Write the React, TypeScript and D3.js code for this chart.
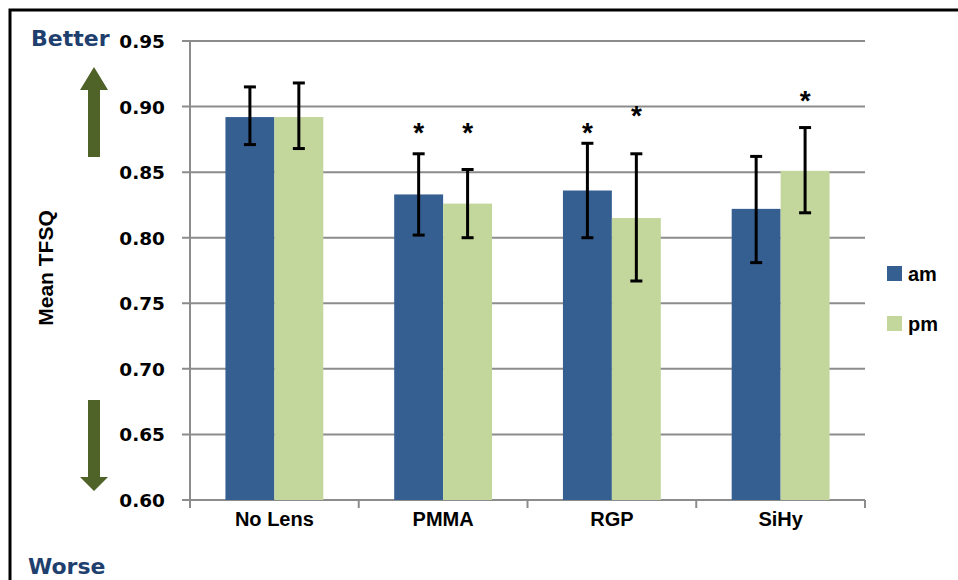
import React from 'react';
import * as d3 from 'd3';

const categories = ['No Lens', 'PMMA', 'RGP', 'SiHy'];
const seriesNames = ['am', 'pm'];
const amValues = [0.892, 0.833, 0.836, 0.822];
const pmValues = [0.892, 0.826, 0.815, 0.851];
const amErrLow = [0.871, 0.802, 0.800, 0.781];
const amErrHigh = [0.915, 0.864, 0.872, 0.862];
const pmErrLow = [0.868, 0.800, 0.767, 0.819];
const pmErrHigh = [0.918, 0.852, 0.864, 0.884];
// y value of the significance star centre per category, null = no star
const amStars = [null, 0.8835, 0.8835, null];
const pmStars = [null, 0.8835, 0.8965, 0.908];
const yTicks = [0.6, 0.65, 0.7, 0.75, 0.8, 0.85, 0.9, 0.95];

const colors = { am: '#365f91', pm: '#c3d69b' };
const W = 958;
const H = 580;
const margin = { left: 190, right: 93, top: 41, bottom: 80 };

const App = () => {
  const innerW = W - margin.left - margin.right;
  const innerH = H - margin.top - margin.bottom;

  const x = d3.scaleBand().domain(categories).range([0, innerW]).paddingInner(0.42).paddingOuter(0.21);
  const x1 = d3.scaleBand().domain(seriesNames).range([0, x.bandwidth()]);
  const y = d3.scaleLinear().domain([0.6, 0.95]).range([innerH, 0]);

  const series = [
    { name: 'am', values: amValues, lo: amErrLow, hi: amErrHigh, stars: amStars },
    { name: 'pm', values: pmValues, lo: pmErrLow, hi: pmErrHigh, stars: pmStars },
  ];

  const catStep = innerW / categories.length;
  const font = '"Liberation Sans", Arial, sans-serif';
  const wide = '"DejaVu Sans", Verdana, sans-serif';

  return (
    <div style={{ position: 'absolute', left: 0, top: 0 }}>
      <svg width={W} height={H} style={{ display: 'block', fontFamily: font, background: '#fff' }}>
        {/* frame */}
        <rect x={10} y={10} width={W + 20} height={H + 20} fill="none" stroke="#000" strokeWidth={3} />

        <g transform={`translate(${margin.left},${margin.top})`}>
          {/* gridlines */}
          {yTicks.map(t => (
            <line key={`g${t}`} x1={-8} x2={innerW} y1={y(t)} y2={y(t)} stroke="#8c8c8c" strokeWidth={2} />
          ))}
          {/* y axis */}
          <line x1={0} x2={0} y1={0} y2={innerH} stroke="#8c8c8c" strokeWidth={2} />
          {/* x tick marks */}
          {d3.range(categories.length + 1).map(i => (
            <line key={`xt${i}`} x1={i * catStep} x2={i * catStep} y1={innerH} y2={innerH + 8} stroke="#8c8c8c" strokeWidth={2} />
          ))}

          {/* bars */}
          {series.map(s =>
            categories.map((c, i) => (
              <rect
                key={`${s.name}${c}`}
                x={(x(c) ?? 0) + (x1(s.name) ?? 0)}
                y={y(s.values[i])}
                width={x1.bandwidth()}
                height={innerH - y(s.values[i])}
                fill={colors[s.name as 'am' | 'pm']}
              />
            ))
          )}

          {/* error bars */}
          {series.map(s =>
            categories.map((c, i) => {
              const cx = (x(c) ?? 0) + (x1(s.name) ?? 0) + x1.bandwidth() / 2;
              return (
                <g key={`e${s.name}${c}`} stroke="#000" strokeWidth={3}>
                  <line x1={cx} x2={cx} y1={y(s.hi[i])} y2={y(s.lo[i])} />
                  <line x1={cx - 6} x2={cx + 6} y1={y(s.hi[i])} y2={y(s.hi[i])} />
                  <line x1={cx - 6} x2={cx + 6} y1={y(s.lo[i])} y2={y(s.lo[i])} />
                </g>
              );
            })
          )}

          {/* stars */}
          {series.map(s =>
            categories.map((c, i) => {
              const v = s.stars[i];
              if (v == null) return null;
              const cx = (x(c) ?? 0) + (x1(s.name) ?? 0) + x1.bandwidth() / 2;
              return (
                <text key={`s${s.name}${c}`} x={cx} y={y(v) + 14} textAnchor="middle" fontSize={28} fontWeight="bold" fill="#000">
                  *
                </text>
              );
            })
          )}

          {/* y tick labels */}
          {yTicks.map(t => (
            <text
              key={`yl${t}`}
              x={-25}
              y={y(t) + 7}
              textAnchor="end"
              fontSize={18.5}
              fontWeight="bold"
              fill="#000"
              style={{ fontFamily: wide }}
            >
              {t.toFixed(2)}
            </text>
          ))}

          {/* x labels */}
          {categories.map(c => (
            <text
              key={`xl${c}`}
              x={(x(c) ?? 0) + x.bandwidth() / 2}
              y={innerH + 26}
              textAnchor="middle"
              fontSize={20}
              fontWeight="bold"
              fill="#000"
            >
              {c}
            </text>
          ))}
        </g>

        {/* axis title */}
        <text transform="translate(53,268) rotate(-90)" textAnchor="middle" fontSize={21} fontWeight="bold" fill="#000">
          Mean TFSQ
        </text>

        {/* Better / Worse */}
        <text x={31} y={46} fontSize={22} fontWeight="bold" fill="#1f3f6e" style={{ fontFamily: wide }}>Better</text>
        <text x={28} y={574} fontSize={22} fontWeight="bold" fill="#1f3f6e" style={{ fontFamily: wide }}>Worse</text>

        {/* arrows */}
        <path d="M88,157 L100,157 L100,90 L108,90 L94,67 L80,90 L88,90 Z" fill="#4f6228" />
        <path d="M88,400 L100,400 L100,477 L108,477 L94,491 L80,477 L88,477 Z" fill="#4f6228" />

        {/* legend */}
        {seriesNames.map((n, i) => (
          <g key={`lg${n}`} transform={`translate(887,${266 + i * 50})`}>
            <rect x={0} y={0} width={15} height={15} fill={colors[n as 'am' | 'pm']} />
            <text x={21} y={15} fontSize={20} fontWeight="bold" fill="#000">{n}</text>
          </g>
        ))}
      </svg>
    </div>
  );
};

export default App;
